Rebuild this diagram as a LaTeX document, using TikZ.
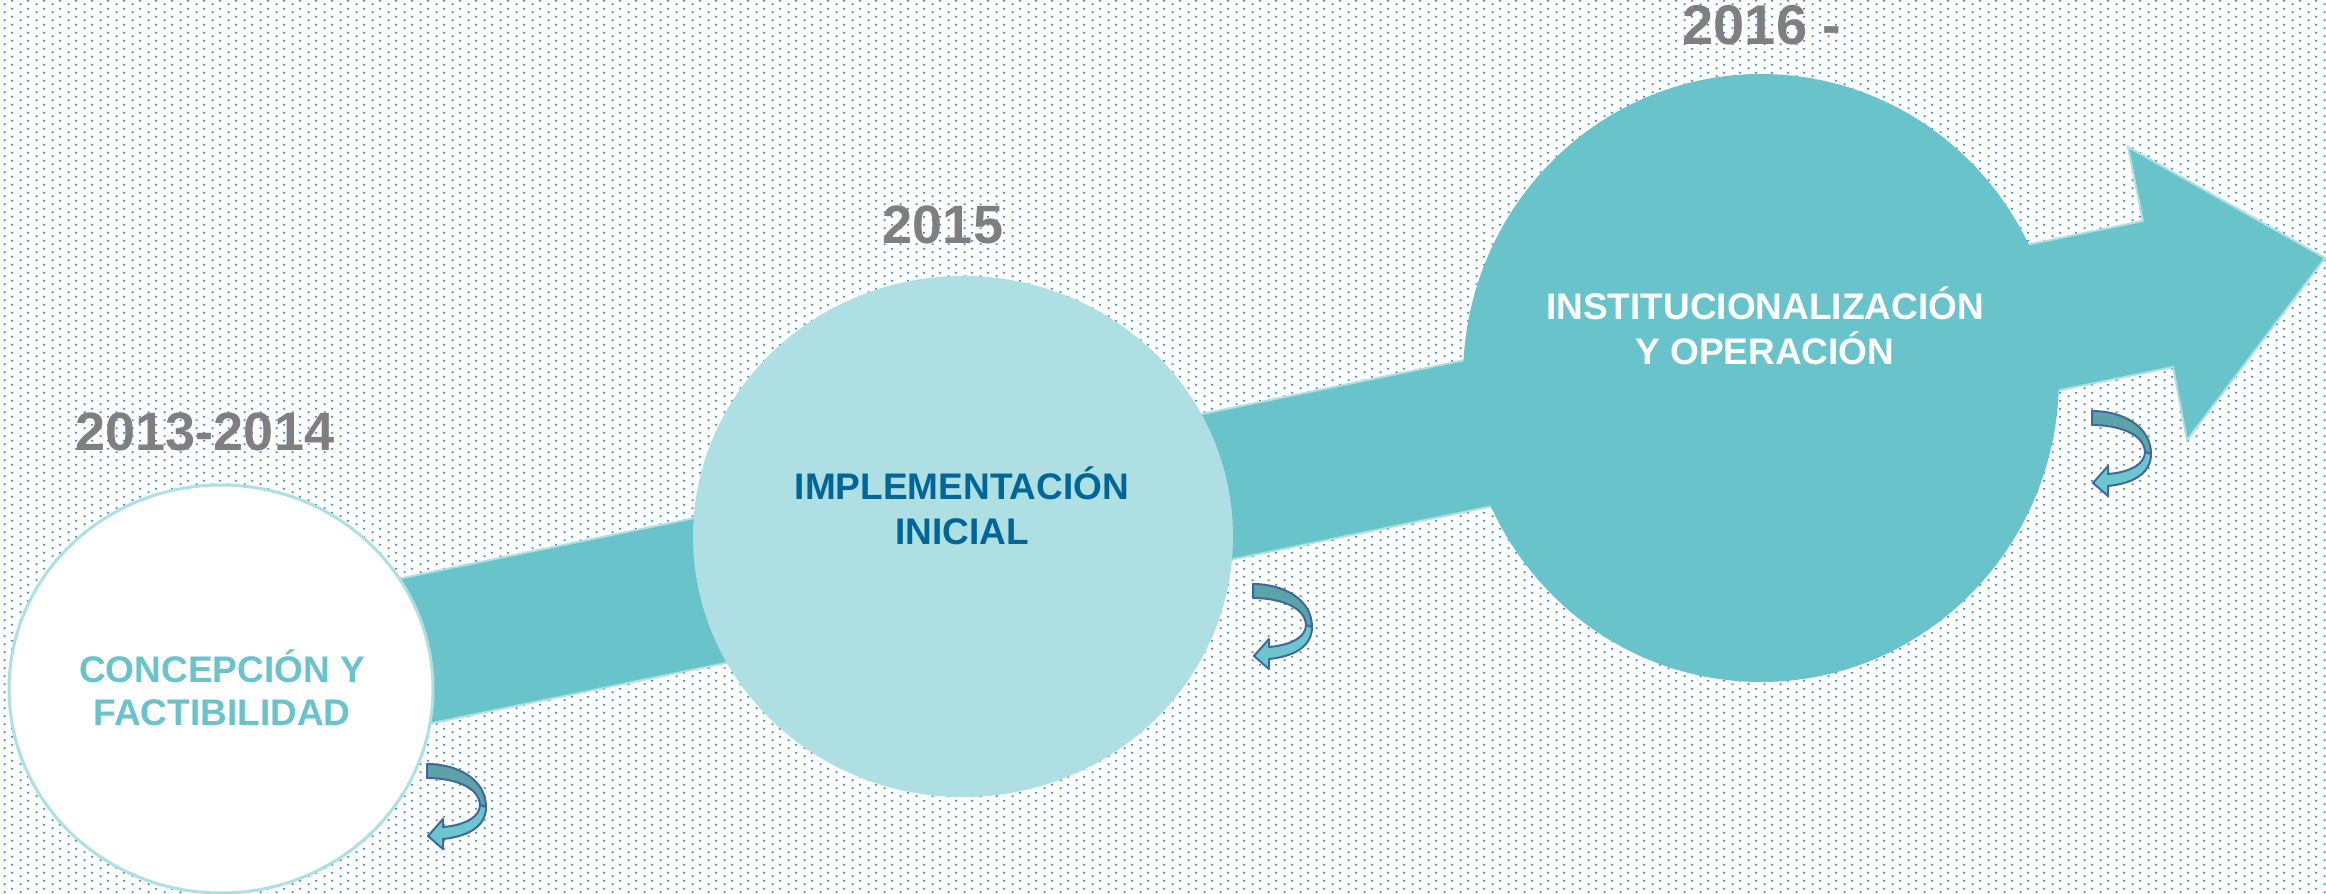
\documentclass[tikz,border=0pt]{standalone}
\usepackage{fontspec}
\setmainfont{Liberation Sans}
\usetikzlibrary{patterns,shapes.geometric}
\definecolor{dotblue}{HTML}{4A8FD8}
\definecolor{tealA}{HTML}{69C3CB}
\definecolor{tealB}{HTML}{ADDFE3}
\definecolor{graytxt}{HTML}{7F7F7F}
\definecolor{darkblue}{HTML}{006699}
\definecolor{cadark}{HTML}{5BA3A9}
\definecolor{calight}{HTML}{6CC6D0}
\definecolor{caline}{HTML}{41689A}
\pgfdeclarepatternformonly{bgdots}{\pgfqpoint{0pt}{0pt}}{\pgfqpoint{8pt}{4pt}}{\pgfqpoint{8pt}{4pt}}{%
  \pgfpathrectangle{\pgfqpoint{2.5pt}{0.5pt}}{\pgfqpoint{1pt}{1pt}}%
  \pgfpathrectangle{\pgfqpoint{6.5pt}{2.5pt}}{\pgfqpoint{1pt}{1pt}}%
  \pgfusepath{fill}}
\tikzset{
  yearlbl/.style={anchor=base, text=graytxt, font=\bfseries\fontsize{27}{32}\selectfont, inner sep=0pt},
  phaselbl/.style={anchor=base, align=center, font=\bfseries\fontsize{18.5}{22.5}\selectfont, inner sep=0pt},
  bubble/.style={ellipse, inner sep=0pt, outer sep=0pt},
  bigarrow/.style={fill=tealA, draw=tealB, line width=1pt, line join=miter},
  curvarr/.pic={
    \filldraw[fill=cadark, draw=caline, line width=1pt, line join=round]
      (0,0) .. controls (30,0) and (59,15) .. (59,43) -- (53,41)
      .. controls (52,22) and (25,14) .. (0,14) -- cycle;
    \filldraw[fill=calight, draw=caline, line width=1pt, line join=round]
      (59,43) .. controls (59,60) and (45,72) .. (16,75) -- (16,85) -- (1,72)
      -- (16,55) -- (16,63) .. controls (40,61) and (53,52) .. (53,41) -- cycle;
  }
}
\begin{document}
\begin{tikzpicture}[x=0.5pt, y=-0.5pt]
\useasboundingbox (0,0) rectangle (2326,894);
\fill[white] (0,0) rectangle (2326,894);
\fill[pattern=bgdots, pattern color=dotblue] (0,0) rectangle (2326,894);
% big arrow
\draw[bigarrow] (300,599) -- (2143,221) -- (2128,147) -- (2325,258) -- (2187,440) -- (2173,367) -- (300,750) -- cycle;
% bubbles
\node[bubble, fill=white, draw=tealB, line width=1.5pt, minimum width=212pt, minimum height=204pt] (c1) at (221,689) {};
\node[bubble, fill=tealB, minimum width=270pt, minimum height=260.5pt] (c2) at (963,536.5) {};
\node[bubble, fill=tealA, minimum width=298pt, minimum height=304pt] (c3) at (1761,378) {};
% years
\node[yearlbl] (y1) at (205,450) {2013-2014};
\node[yearlbl] (y2) at (943,243) {2015};
\node[yearlbl, font=\bfseries\fontsize{28}{33}\selectfont] (y3) at (1762,45) {2016 -};
% phase labels (base = baseline of the last line)
\node[phaselbl, text=tealA, font=\bfseries\fontsize{18.5}{21.5}\selectfont] (t1) at (222,725) {CONCEPCIÓN Y\\FACTIBILIDAD};
\node[phaselbl, text=darkblue] (t2) at (962,544) {IMPLEMENTACIÓN\\INICIAL};
\node[phaselbl, text=white] (t3) at (1765,364) {INSTITUCIONALIZACIÓN\\Y OPERACIÓN};
% curved arrows
\pic (a1) at (427,764) {curvarr};
\pic (a2) at (1253,584) {curvarr};
\pic (a3) at (2092,411) {curvarr};
\end{tikzpicture}
\end{document}
